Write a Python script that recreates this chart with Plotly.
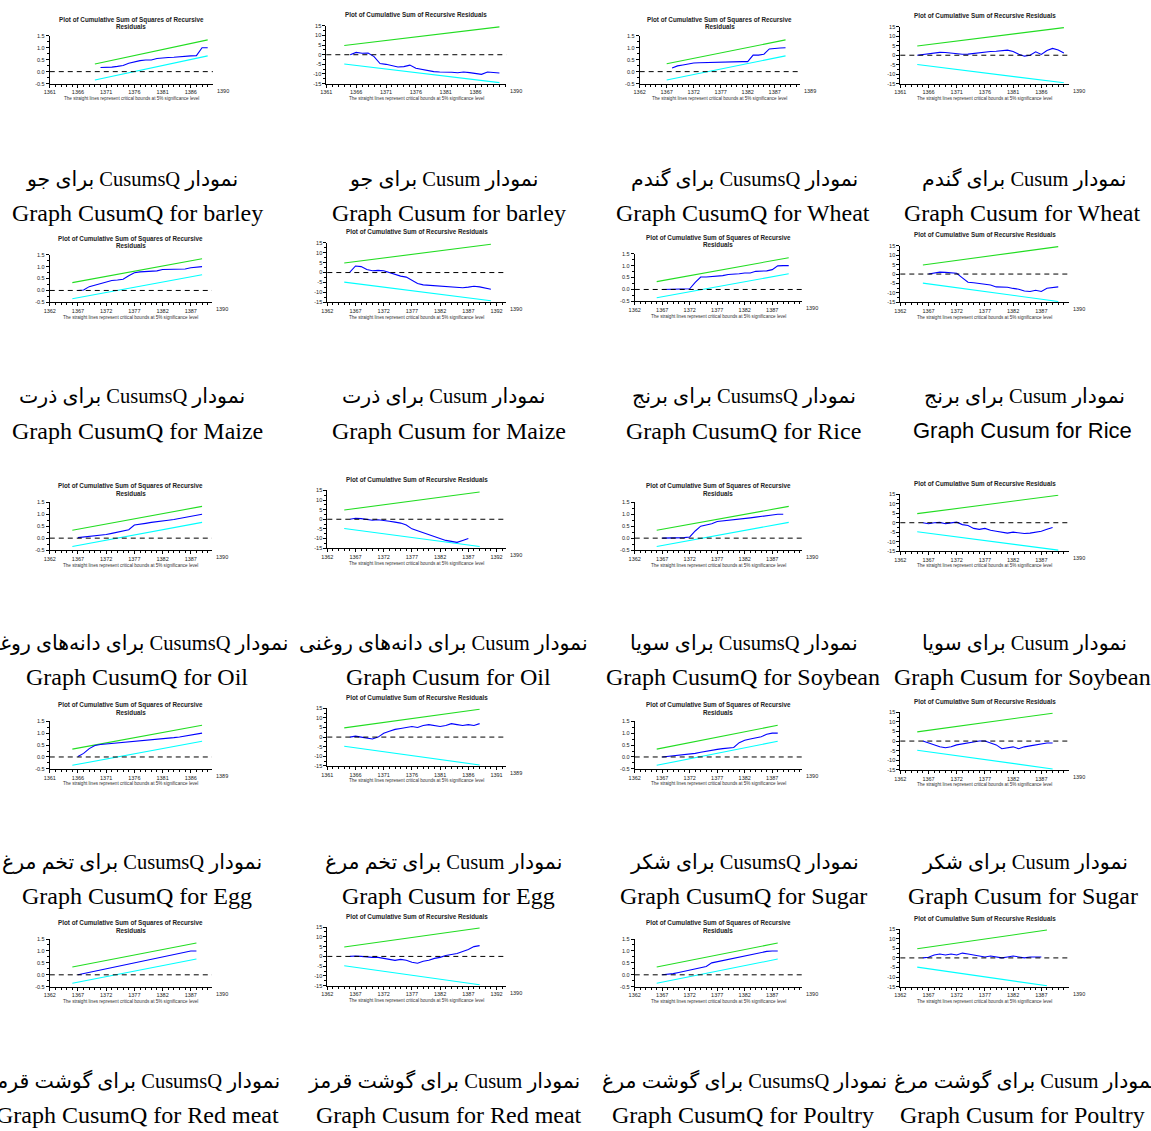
import plotly.graph_objects as go

W, H = 1151, 1131

# ---------------- data ----------------
TITLE_SQ = ["Plot of Cumulative Sum of Squares of Recursive", "Residuals"]
TITLE_CS = ["Plot of Cumulative Sum of Recursive Residuals"]
FOOTER = "The straight lines represent critical bounds at 5% significance level"

# Row A : barley / wheat
barley_sq_start = 1370
barley_sq = [0.17, 0.17, 0.19, 0.22, 0.26, 0.35, 0.42, 0.46, 0.49, 0.49, 0.55, 0.58,
             0.59, 0.60, 0.63, 0.64, 0.66, 0.67, 1.0, 1.0]
barley_sq_bound_years = [1369, 1389]
barley_sq_upper = [0.32, 1.33]
barley_sq_lower = [-0.35, 0.66]

barley_cs_start = 1365
barley_cs = [0, 1.2, 0.8, 0.9, -1.0, -4.6, -5.0, -5.8, -6.4, -6.2, -5.4, -7.0, -7.6, -8.2,
             -8.8, -9.0, -9.0, -9.1, -9.4, -9.0, -9.3, -9.7, -10.2, -9.0, -9.2, -9.5]
barley_cs_bound_years = [1364, 1390]
barley_cs_upper = [4.8, 14.5]
barley_cs_lower = [-4.8, -14.5]

wheat_sq_start = 1368
wheat_sq = [0.15, 0.24, 0.28, 0.33, 0.36, 0.37, 0.38, 0.38, 0.38, 0.39, 0.40, 0.41, 0.42,
            0.42, 0.42, 0.69, 0.69, 0.73, 0.95, 0.98, 0.99, 1.0]
wheat_sq_bound_years = [1367, 1389]
wheat_sq_upper = [0.33, 1.33]
wheat_sq_lower = [-0.35, 0.66]

wheat_cs_start = 1364
wheat_cs = [0, 0.3, 0.6, 1.2, 1.5, 1.4, 1.0, 0.7, 0.5, 0.6, 1.0, 1.5, 1.8, 2.0, 2.1, 2.5,
            2.7, 2.0, 0.5, -0.5, 0.0, 1.8, 0.4, 2.5, 3.6, 2.8, 1.2]
wheat_cs_bound_years = [1364, 1390]
wheat_cs_upper = [4.9, 14.6]
wheat_cs_lower = [-4.9, -14.6]

# Row B : maize / rice
maize_sq_start = 1367
maize_sq = [0.0, 0.02, 0.16, 0.22, 0.27, 0.35, 0.42, 0.44, 0.47, 0.62, 0.74, 0.78, 0.79,
            0.80, 0.82, 0.88, 0.89, 0.89, 0.89, 0.90, 0.95, 0.99, 1.0]
maize_sq_bound_years = [1366, 1389]
maize_sq_upper = [0.33, 1.33]
maize_sq_lower = [-0.35, 0.66]

maize_cs_start = 1366
maize_cs = [0.2, 3.3, 3.0, 1.5, 0.9, 1.1, 0.9, 0.0, -1.0, -1.8, -2.3, -3.8, -5.5, -6.2,
            -6.4, -6.6, -7.0, -7.3, -7.5, -7.5, -7.6, -7.3, -6.9, -7.2, -7.8, -8.4]
maize_cs_bound_years = [1365, 1391]
maize_cs_upper = [4.8, 14.2]
maize_cs_lower = [-4.8, -14.2]

rice_sq_start = 1367
rice_sq = [0.0, 0.0, 0.01, 0.01, 0.02, 0.03, 0.3, 0.52, 0.52, 0.53, 0.54, 0.58, 0.63, 0.63,
           0.66, 0.69, 0.69, 0.76, 0.77, 0.78, 0.83, 0.99, 1.0, 1.0]
rice_sq_bound_years = [1366, 1390]
rice_sq_upper = [0.33, 1.33]
rice_sq_lower = [-0.35, 0.66]

rice_cs_start = 1367
rice_cs = [0.0, 0.4, 1.0, 0.9, 0.7, 0.4, -2.0, -4.3, -4.6, -4.9, -5.1, -5.8, -6.8, -6.9,
           -7.0, -7.6, -8.0, -9.0, -9.2, -8.6, -9.2, -7.5, -7.2, -6.8]
rice_cs_bound_years = [1366, 1390]
rice_cs_upper = [4.8, 14.5]
rice_cs_lower = [-4.8, -14.5]

# Row C : oil seeds / soybean
oil_sq_start = 1367
oil_sq = [0.02, 0.04, 0.06, 0.08, 0.1, 0.15, 0.2, 0.25, 0.3, 0.35, 0.55, 0.6, 0.62, 0.66,
          0.7, 0.72, 0.75, 0.78, 0.82, 0.85, 0.9, 0.95, 1.0]
oil_sq_bound_years = [1366, 1389]
oil_sq_upper = [0.33, 1.33]
oil_sq_lower = [-0.35, 0.66]

oil_cs_start = 1366
oil_cs = [0, 0.5, 0.3, 0.0, -0.5, -0.3, -0.5, -1.0, -1.5, -2.0, -3.0, -5.0, -6.0, -7.0,
          -8.0, -9.0, -10.0, -11.0, -11.5, -12.0, -11.0, -10.0]
oil_cs_bound_years = [1365, 1389]
oil_cs_upper = [4.8, 14.2]
oil_cs_lower = [-4.8, -14.2]

soy_sq_start = 1367
soy_sq = [0.0, 0.0, 0.01, 0.02, 0.02, 0.05, 0.3, 0.5, 0.55, 0.6, 0.7, 0.72, 0.74, 0.76,
          0.8, 0.82, 0.85, 0.88, 0.9, 0.93, 0.97, 1.0, 1.0]
soy_sq_bound_years = [1366, 1390]
soy_sq_upper = [0.33, 1.33]
soy_sq_lower = [-0.35, 0.66]

soy_cs_start = 1366
soy_cs = [0, -0.5, 0.0, 0.2, -0.5, 0.0, 0.3, -1.0, -1.5, -3.0, -3.5, -3.0, -4.0, -4.5,
          -5.0, -5.5, -5.0, -5.5, -5.7, -5.5, -5.0, -4.5, -3.5, -2.5]
soy_cs_bound_years = [1365, 1390]
soy_cs_upper = [4.8, 14.5]
soy_cs_lower = [-4.8, -14.5]

# Row D : egg / sugar
egg_sq_start = 1366
egg_sq = [0.02, 0.15, 0.35, 0.48, 0.52, 0.54, 0.56, 0.58, 0.6, 0.62, 0.64, 0.66, 0.68, 0.7,
          0.72, 0.75, 0.78, 0.81, 0.84, 0.88, 0.92, 0.96, 1.0]
egg_sq_bound_years = [1365, 1388]
egg_sq_upper = [0.33, 1.33]
egg_sq_lower = [-0.35, 0.66]

egg_cs_start = 1365
egg_cs = [0, 0.5, 0.0, -0.5, -1.0, 0.0, 2.0, 3.0, 4.0, 4.5, 5.0, 5.5, 5.0, 6.0, 6.5,
          6.0, 5.5, 6.0, 7.0, 6.5, 6.0, 6.5, 6.0, 7.0]
egg_cs_bound_years = [1364, 1388]
egg_cs_upper = [4.8, 14.5]
egg_cs_lower = [-4.8, -14.5]

sugar_sq_start = 1367
sugar_sq = [0.0, 0.02, 0.05, 0.08, 0.1, 0.12, 0.15, 0.2, 0.25, 0.3, 0.32, 0.35, 0.38,
            0.4, 0.6, 0.7, 0.75, 0.8, 0.85, 0.95, 1.0, 1.0]
sugar_sq_bound_years = [1366, 1388]
sugar_sq_upper = [0.33, 1.33]
sugar_sq_lower = [-0.35, 0.66]

sugar_cs_start = 1366
sugar_cs = [0, -1.0, -2.0, -3.0, -3.5, -3.0, -2.0, -1.5, -1.0, -0.5, 0.0, 0.0, -1.0,
            -2.0, -4.0, -3.5, -3.0, -4.0, -3.0, -2.5, -2.0, -1.5, -1.0, -1.0]
sugar_cs_bound_years = [1365, 1389]
sugar_cs_upper = [4.8, 14.5]
sugar_cs_lower = [-4.8, -14.5]

# Row E : red meat / poultry
meat_sq_start = 1367
meat_sq = [0.0, 0.05, 0.1, 0.15, 0.2, 0.25, 0.3, 0.35, 0.4, 0.45, 0.5, 0.55, 0.6, 0.65,
           0.7, 0.75, 0.8, 0.85, 0.9, 0.95, 1.0, 1.0]
meat_sq_bound_years = [1366, 1388]
meat_sq_upper = [0.33, 1.33]
meat_sq_lower = [-0.35, 0.66]

meat_cs_start = 1366
meat_cs = [0, 0.2, 0.0, -0.3, -0.5, -0.5, -1.0, -1.5, -2.0, -1.5, -2.0, -3.0, -3.5, -2.5,
           -2.0, -1.0, -0.5, 0.5, 1.0, 1.5, 2.5, 3.5, 5.0, 5.5]
meat_cs_bound_years = [1365, 1389]
meat_cs_upper = [4.8, 14.5]
meat_cs_lower = [-4.8, -14.5]

poultry_sq_start = 1367
poultry_sq = [0.0, 0.02, 0.05, 0.1, 0.15, 0.2, 0.25, 0.3, 0.35, 0.5, 0.55, 0.6, 0.65,
              0.7, 0.72, 0.8, 0.85, 0.9, 0.95, 0.98, 1.0, 1.0]
poultry_sq_bound_years = [1366, 1388]
poultry_sq_upper = [0.33, 1.33]
poultry_sq_lower = [-0.35, 0.66]

poultry_cs_start = 1366
poultry_cs = [0, 0.3, 1.5, 2.0, 1.5, 2.0, 1.5, 2.5, 2.0, 1.5, 1.0, 0.5, 1.0, 0.5, 0.0,
              0.5, 1.0, 0.5, 0.0, 0.5, 0.5, 0.5]
poultry_cs_bound_years = [1365, 1388]
poultry_cs_upper = [4.8, 14.5]
poultry_cs_lower = [-4.8, -14.5]

captions_fa = [
    "نمودار CusumsQ برای جو", "نمودار Cusum برای جو",
    "نمودار CusumsQ برای گندم", "نمودار Cusum برای گندم",
    "نمودار CusumsQ برای ذرت", "نمودار Cusum برای ذرت",
    "نمودار CusumsQ برای برنج", "نمودار Cusum برای برنج",
    "نمودار CusumsQ برای دانه‌های روغنی", "نمودار Cusum برای دانه‌های روغنی",
    "نمودار CusumsQ برای سویا", "نمودار Cusum برای سویا",
    "نمودار CusumsQ برای تخم مرغ", "نمودار Cusum برای تخم مرغ",
    "نمودار CusumsQ برای شکر", "نمودار Cusum برای شکر",
    "نمودار CusumsQ برای گوشت قرمز", "نمودار Cusum برای گوشت قرمز",
    "نمودار CusumsQ برای گوشت مرغ", "نمودار Cusum برای گوشت مرغ",
]
captions_en = [
    "Graph CusumQ for barley", "Graph Cusum for barley",
    "Graph CusumQ for Wheat", "Graph Cusum for Wheat",
    "Graph CusumQ for Maize", "Graph Cusum for Maize",
    "Graph CusumQ for Rice", "Graph Cusum for Rice",
    "Graph CusumQ for Oil", "Graph Cusum for Oil",
    "Graph CusumQ for Soybean", "Graph Cusum for Soybean",
    "Graph CusumQ for Egg", "Graph Cusum for Egg",
    "Graph CusumQ for Sugar", "Graph Cusum for Sugar",
    "Graph CusumQ for Red meat", "Graph Cusum for Red meat",
    "Graph CusumQ for Poultry", "Graph Cusum for Poultry",
]

series = [
    ("sq", barley_sq_start, barley_sq, barley_sq_bound_years, barley_sq_upper, barley_sq_lower),
    ("cs", barley_cs_start, barley_cs, barley_cs_bound_years, barley_cs_upper, barley_cs_lower),
    ("sq", wheat_sq_start, wheat_sq, wheat_sq_bound_years, wheat_sq_upper, wheat_sq_lower),
    ("cs", wheat_cs_start, wheat_cs, wheat_cs_bound_years, wheat_cs_upper, wheat_cs_lower),
    ("sq", maize_sq_start, maize_sq, maize_sq_bound_years, maize_sq_upper, maize_sq_lower),
    ("cs", maize_cs_start, maize_cs, maize_cs_bound_years, maize_cs_upper, maize_cs_lower),
    ("sq", rice_sq_start, rice_sq, rice_sq_bound_years, rice_sq_upper, rice_sq_lower),
    ("cs", rice_cs_start, rice_cs, rice_cs_bound_years, rice_cs_upper, rice_cs_lower),
    ("sq", oil_sq_start, oil_sq, oil_sq_bound_years, oil_sq_upper, oil_sq_lower),
    ("cs", oil_cs_start, oil_cs, oil_cs_bound_years, oil_cs_upper, oil_cs_lower),
    ("sq", soy_sq_start, soy_sq, soy_sq_bound_years, soy_sq_upper, soy_sq_lower),
    ("cs", soy_cs_start, soy_cs, soy_cs_bound_years, soy_cs_upper, soy_cs_lower),
    ("sq", egg_sq_start, egg_sq, egg_sq_bound_years, egg_sq_upper, egg_sq_lower),
    ("cs", egg_cs_start, egg_cs, egg_cs_bound_years, egg_cs_upper, egg_cs_lower),
    ("sq", sugar_sq_start, sugar_sq, sugar_sq_bound_years, sugar_sq_upper, sugar_sq_lower),
    ("cs", sugar_cs_start, sugar_cs, sugar_cs_bound_years, sugar_cs_upper, sugar_cs_lower),
    ("sq", meat_sq_start, meat_sq, meat_sq_bound_years, meat_sq_upper, meat_sq_lower),
    ("cs", meat_cs_start, meat_cs, meat_cs_bound_years, meat_cs_upper, meat_cs_lower),
    ("sq", poultry_sq_start, poultry_sq, poultry_sq_bound_years, poultry_sq_upper, poultry_sq_lower),
    ("cs", poultry_cs_start, poultry_cs, poultry_cs_bound_years, poultry_cs_upper, poultry_cs_lower),
]

# axis first-year and label for the right end of the axis
axis_first = [1361, 1361, 1362, 1361,
              1362, 1362, 1362, 1362,
              1362, 1362, 1362, 1362,
              1361, 1361, 1362, 1362,
              1362, 1362, 1362, 1362]
axis_last_label = ["1390", "1390", "1389", "1390",
                   "1390", "1390", "1390", "1390",
                   "1390", "1390", "1390", "1390",
                   "1389", "1389", "1390", "1390",
                   "1390", "1390", "1390", "1390"]

# ---------------- layout geometry (pixels) ----------------
# (left, right, px_per_year, top, bottom)
geom = [
    (44, 208, 5.67, 33, 81), (322, 503, 6.0, 23, 81), (637, 798, 5.43, 33, 81), (899, 1069, 5.67, 24, 81),
    (44, 207, 5.67, 253, 301), (323, 503, 5.67, 241, 301), (632, 800, 5.53, 252, 300), (899, 1069, 5.67, 244, 301),
    (44, 207, 5.67, 502, 550), (323, 503, 5.67, 490, 548), (632, 800, 5.53, 502, 550), (899, 1069, 5.67, 494, 551),
    (44, 207, 5.67, 722, 770), (323, 503, 5.67, 709, 767), (632, 800, 5.53, 722, 770), (899, 1069, 5.67, 713, 771),
    (44, 207, 5.67, 941, 989), (323, 503, 5.67, 929, 988), (632, 800, 5.53, 941, 989), (899, 1069, 5.67, 931, 989),
]
cap_rows_y = [(177, 211), (396, 430), (644, 678), (864, 898), (1084, 1118)]
cap_fa_x = [127, 440, 742, 1024]
cap_en_x = [132, 445, 741, 1022]

BLUE = "#0000ff"
GREEN = "#22dd22"
CYAN = "#00ffff"
TICKFONT = dict(family="Liberation Sans, Arial", size=5.5, color="#222")


def px(x):
    return x / W


def py(y):
    return 1 - y / H


fig = go.Figure()
annotations = []
shapes = []
layout = {}

for i, (kind, start, vals, byears, upper, lower) in enumerate(series):
    n = i + 1
    xa = "x" if n == 1 else f"x{n}"
    ya = "y" if n == 1 else f"y{n}"
    left, right, ppy, top, bottom = geom[i]
    first = axis_first[i]
    xmax = first + (right - left) / ppy
    years = list(range(start, start + len(vals)))

    fig.add_trace(go.Scatter(x=byears, y=upper, mode="lines", line=dict(color=GREEN, width=1.1),
                             xaxis=xa, yaxis=ya, showlegend=False, hoverinfo="skip"))
    fig.add_trace(go.Scatter(x=byears, y=lower, mode="lines", line=dict(color=CYAN, width=1.1),
                             xaxis=xa, yaxis=ya, showlegend=False, hoverinfo="skip"))
    fig.add_trace(go.Scatter(x=years, y=vals, mode="lines", line=dict(color=BLUE, width=1.1),
                             xaxis=xa, yaxis=ya, showlegend=False))

    shapes.append(dict(type="line", xref=f"{xa} domain", yref=ya, x0=0, x1=1, y0=0, y1=0,
                       line=dict(color="black", width=1, dash="5px,4px")))

    tickvals = list(range(first, int(xmax) + 1, 5))
    tickvals = [t for t in tickvals if t <= xmax - 1.5]
    layout[f"xaxis{'' if n == 1 else n}"] = dict(
        domain=[px(left), px(right)], range=[first, xmax], anchor=ya,
        showgrid=False, zeroline=False, showline=True, linecolor="black", linewidth=1,
        ticks="outside", ticklen=3, tickcolor="black", tickwidth=1,
        tickvals=tickvals, ticktext=[str(t) for t in tickvals], tickfont=TICKFONT,
        minor=dict(ticks="outside", ticklen=2, dtick=1, tick0=first, tickcolor="black", showgrid=False),
        fixedrange=True,
    )
    if kind == "sq":
        yr = [-0.5, 1.5]
        yv = [-0.5, 0.0, 0.5, 1.0, 1.5]
        yt = ["-0.5", "0.0", "0.5", "1.0", "1.5"]
        mdt = 0.25
    else:
        yr = [-15, 15]
        yv = [-15, -10, -5, 0, 5, 10, 15]
        yt = [str(v) for v in yv]
        mdt = 2.5
    layout[f"yaxis{'' if n == 1 else n}"] = dict(
        domain=[py(bottom), py(top)], range=yr, anchor=xa,
        showgrid=False, zeroline=False, showline=True, linecolor="black", linewidth=1,
        ticks="outside", ticklen=3, tickcolor="black", tickwidth=1,
        tickvals=yv, ticktext=yt, tickfont=TICKFONT,
        minor=dict(ticks="outside", ticklen=2, dtick=mdt, tick0=yr[0], tickcolor="black", showgrid=False),
        fixedrange=True,
    )

    cx = (left + right) / 2
    title = TITLE_SQ if kind == "sq" else TITLE_CS
    if kind == "sq":
        ys = [top - 16, top - 9]
    else:
        ys = [top - 11]
    for line, yy in zip(title, ys):
        annotations.append(dict(text=f"<b>{line}</b>", x=px(cx), y=py(yy), xref="paper", yref="paper",
                                showarrow=False, xanchor="center", yanchor="middle",
                                font=dict(family="Liberation Sans, Arial", size=6.3, color="#222")))
    annotations.append(dict(text=FOOTER, x=px(cx), y=py(bottom + 15), xref="paper", yref="paper",
                            showarrow=False, xanchor="center", yanchor="middle",
                            font=dict(family="Liberation Sans, Arial", size=4.6, color="#333")))
    annotations.append(dict(text=axis_last_label[i], x=px(right + 10), y=py(bottom + 7),
                            xref="paper", yref="paper", showarrow=False, xanchor="center",
                            yanchor="middle", font=TICKFONT))

    r, c = divmod(i, 4)
    yfa, yen = cap_rows_y[r]
    annotations.append(dict(text="\u202b" + captions_fa[i] + "\u202c", x=px(cap_fa_x[c]), y=py(yfa),
                            xref="paper", yref="paper", showarrow=False, xanchor="center",
                            yanchor="middle",
                            font=dict(family="Liberation Serif, DejaVu Sans", size=20.5, color="black")))
    en_font = "Liberation Serif, Times New Roman" if i != 7 else "Liberation Sans, Arial"
    en_size = 24 if i != 7 else 22
    annotations.append(dict(text=captions_en[i], x=px(cap_en_x[c]), y=py(yen),
                            xref="paper", yref="paper", showarrow=False, xanchor="center",
                            yanchor="middle", font=dict(family=en_font, size=en_size, color="black")))

fig.update_layout(
    width=W, height=H, autosize=False,
    margin=dict(l=0, r=0, t=0, b=0),
    paper_bgcolor="white", plot_bgcolor="white",
    showlegend=False,
    annotations=annotations, shapes=shapes,
    **layout,
)

fig.write_html(
    "out.html",
    config={"displayModeBar": False},
    post_script="document.body.style.margin='0px';document.documentElement.style.overflow='hidden';document.body.style.overflow='hidden';",
)
